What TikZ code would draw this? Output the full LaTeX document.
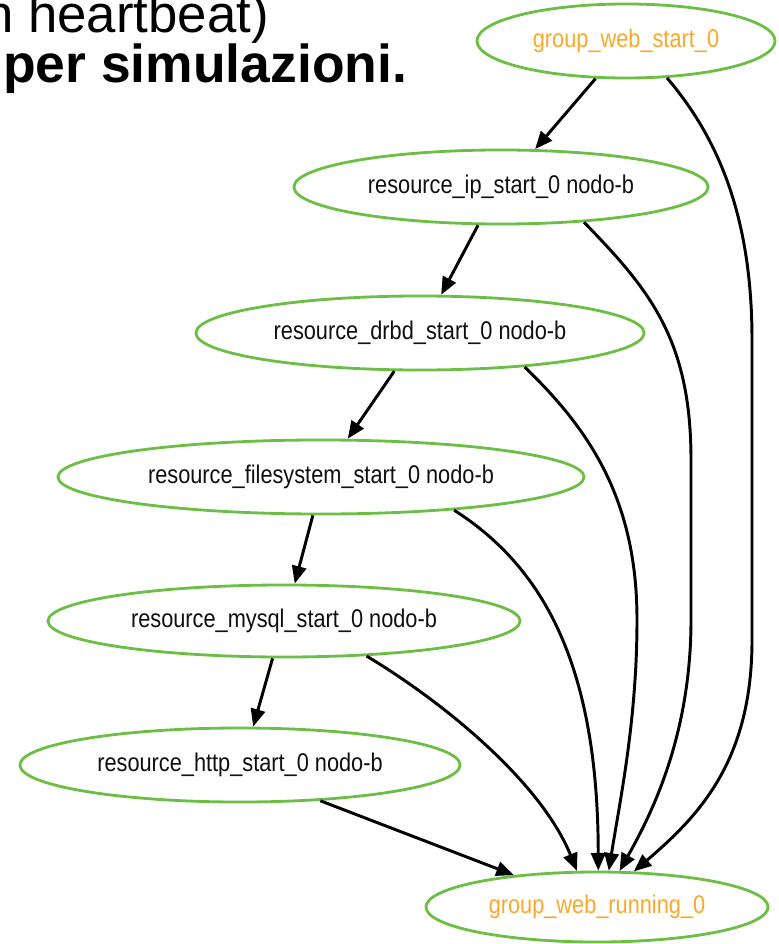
\documentclass[tikz,border=0pt]{standalone}
\usepackage{fontspec}
\usepackage{tikz}
\usetikzlibrary{shapes.geometric,arrows.meta}
\newfontfamily\graphfont[FakeStretch=0.85]{Liberation Sans}
\newfontfamily\slidefont{Liberation Sans}
\definecolor{gvgreen}{RGB}{108,190,69}
\definecolor{gvorange}{RGB}{250,168,45}
\definecolor{gvtext}{RGB}{15,15,15}

\begin{document}
\begin{tikzpicture}[x=0.025cm, y=-0.025cm,
	res/.style={ellipse, draw=gvgreen, line width=2pt, inner sep=0pt, text=gvtext,
		font=\graphfont\fontsize{18.2pt}{22pt}\selectfont},
	grp/.style={res, text=gvorange},
	edge/.style={-{Triangle[length=0.44cm, width=0.36cm]}, line width=2.1pt, black}]
		\useasboundingbox (0,0) rectangle (778,944);
		\clip (0,0) rectangle (778,944);

		% slide text behind the graph
		\node[anchor=base west, inner sep=0pt, font=\slidefont\fontsize{37.5pt}{40pt}\selectfont] (line1) at (-16,33) {n heartbeat)};
		\node[anchor=base west, inner sep=0pt, font=\slidefont\bfseries\fontsize{38pt}{40pt}\selectfont] (line2) at (3,83) {per simulazioni.};

		% graph nodes
		\node[grp, minimum width=7.45cm, minimum height=1.85cm] (start) at (626,41) {group\_web\_start\_0};
		\node[res, minimum width=10.35cm, minimum height=1.85cm] (ip) at (501,187) {resource\_ip\_start\_0 nodo-b};
		\node[res, minimum width=11.2cm, minimum height=1.85cm] (drbd) at (420,333) {resource\_drbd\_start\_0 nodo-b};
		\node[res, minimum width=13.15cm, minimum height=1.85cm] (fs) at (321,477) {resource\_filesystem\_start\_0 nodo-b};
		\node[res, minimum width=11.8cm, minimum height=1.8cm] (mysql) at (284,621) {resource\_mysql\_start\_0 nodo-b};
		\node[res, minimum width=11cm, minimum height=1.85cm] (http) at (240,765) {resource\_http\_start\_0 nodo-b};
		\node[grp, minimum width=8.55cm, minimum height=1.75cm] (running) at (597,907) {group\_web\_running\_0};

		% chain of starts
		\foreach \a/\b/\sa/\tb in {start/ip/-129/48.5, ip/drbd/-121/61.6, drbd/fs/-124/55,
				fs/mysql/-102.5/74.5, mysql/http/-107/71.6, http/running/-24/159.4}
			\draw[edge] (\a.\sa) -- (\b.\tb);

		% everything ends in running
		\draw[edge] (mysql.-23.6) .. controls (440,700) and (540,780) .. (running.119.2);
		\draw[edge] (fs.-14.6) .. controls (540,565) and (598,660) .. (running.88.3);
		\draw[edge] (drbd.-18.1) .. controls (590,430) and (637,500) .. (637,620)
			.. controls (637,720) and (620,800) .. (running.72);
		\draw[edge] (ip.-23.9) .. controls (650,290) and (691,340) .. (691,460) -- (691,620)
			.. controls (691,740) and (648,820) .. (running.58.3);
		\draw[edge] (start.-42.8) .. controls (720,140) and (752,220) .. (752,340) -- (752,640)
			.. controls (752,760) and (700,815) .. (running.44.2);
	\end{tikzpicture}
\end{document}
